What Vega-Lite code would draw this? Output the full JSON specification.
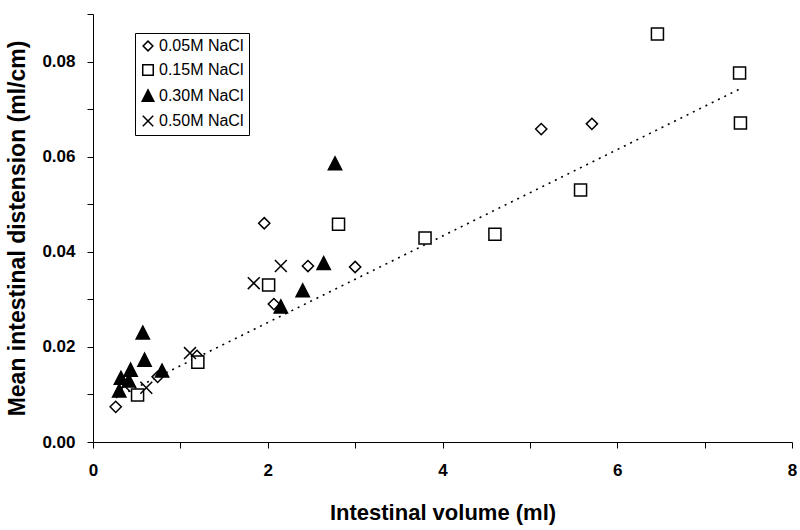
{
  "$schema": "https://vega.github.io/schema/vega-lite/v6.json",
  "width": 699,
  "height": 428,
  "autosize": {"type": "none"},
  "padding": {"left": 93, "top": 14, "right": 8, "bottom": 88},
  "background": "white",
  "config": {
    "view": {"stroke": null},
    "font": "Liberation Sans",
    "axis": {
      "grid": false,
      "domainColor": "black",
      "domainWidth": 1,
      "tickColor": "black",
      "tickWidth": 1,
      "tickSize": 6,
      "labelFont": "Liberation Sans",
      "labelFontWeight": "bold",
      "labelFontSize": 17,
      "labelColor": "black",
      "titleFont": "Liberation Sans",
      "titleFontWeight": "bold",
      "titleColor": "black",
      "titleLimit": 800
    },
    "legend": {
      "labelFont": "Liberation Sans",
      "labelFontSize": 16,
      "labelColor": "black"
    }
  },
  "layer": [
    {
      "data": {"values": [
        {"vol": 0.26, "fit": 0.0093},
        {"vol": 7.42, "fit": 0.0744}
      ]},
      "mark": {"type": "line", "color": "black", "strokeWidth": 1.6, "strokeDash": [2, 5]},
      "encoding": {
        "x": {"field": "vol", "type": "quantitative"},
        "y": {"field": "fit", "type": "quantitative"}
      }
    },
    {
      "data": {"values": [
        {"conc": "0.05M NaCl", "vol": 0.26, "dist": 0.0074},
        {"conc": "0.05M NaCl", "vol": 0.74, "dist": 0.0137},
        {"conc": "0.05M NaCl", "vol": 1.19, "dist": 0.0181},
        {"conc": "0.05M NaCl", "vol": 1.96, "dist": 0.0460},
        {"conc": "0.05M NaCl", "vol": 2.07, "dist": 0.0290},
        {"conc": "0.05M NaCl", "vol": 2.46, "dist": 0.0370},
        {"conc": "0.05M NaCl", "vol": 3.00, "dist": 0.0368},
        {"conc": "0.05M NaCl", "vol": 5.13, "dist": 0.0658},
        {"conc": "0.05M NaCl", "vol": 5.71, "dist": 0.0669},
        {"conc": "0.15M NaCl", "vol": 0.51, "dist": 0.0099},
        {"conc": "0.15M NaCl", "vol": 1.20, "dist": 0.0168},
        {"conc": "0.15M NaCl", "vol": 2.01, "dist": 0.0330},
        {"conc": "0.15M NaCl", "vol": 2.81, "dist": 0.0458},
        {"conc": "0.15M NaCl", "vol": 3.80, "dist": 0.0429},
        {"conc": "0.15M NaCl", "vol": 4.60, "dist": 0.0437},
        {"conc": "0.15M NaCl", "vol": 5.58, "dist": 0.0530},
        {"conc": "0.15M NaCl", "vol": 6.46, "dist": 0.0858},
        {"conc": "0.15M NaCl", "vol": 7.40, "dist": 0.0776},
        {"conc": "0.15M NaCl", "vol": 7.41, "dist": 0.0671},
        {"conc": "0.30M NaCl", "vol": 0.30, "dist": 0.0107},
        {"conc": "0.30M NaCl", "vol": 0.32, "dist": 0.0134},
        {"conc": "0.30M NaCl", "vol": 0.41, "dist": 0.0128},
        {"conc": "0.30M NaCl", "vol": 0.43, "dist": 0.0151},
        {"conc": "0.30M NaCl", "vol": 0.57, "dist": 0.0229},
        {"conc": "0.30M NaCl", "vol": 0.59, "dist": 0.0172},
        {"conc": "0.30M NaCl", "vol": 0.79, "dist": 0.0149},
        {"conc": "0.30M NaCl", "vol": 2.15, "dist": 0.0284},
        {"conc": "0.30M NaCl", "vol": 2.40, "dist": 0.0318},
        {"conc": "0.30M NaCl", "vol": 2.64, "dist": 0.0375},
        {"conc": "0.30M NaCl", "vol": 2.77, "dist": 0.0585},
        {"conc": "0.50M NaCl", "vol": 0.36, "dist": 0.0118},
        {"conc": "0.50M NaCl", "vol": 0.61, "dist": 0.0114},
        {"conc": "0.50M NaCl", "vol": 1.11, "dist": 0.0187},
        {"conc": "0.50M NaCl", "vol": 1.84, "dist": 0.0334},
        {"conc": "0.50M NaCl", "vol": 2.15, "dist": 0.0370}
      ]},
      "mark": {"type": "point", "filled": false, "size": 196, "strokeWidth": 1.5, "stroke": "black", "opacity": 1},
      "encoding": {
        "x": {
          "field": "vol", "type": "quantitative",
          "scale": {"domain": [0, 8], "nice": false, "zero": true},
          "axis": {
            "title": "Intestinal volume (ml)",
            "titleFontSize": 22,
            "values": [0, 1, 2, 3, 4, 5, 6, 7, 8],
            "labelExpr": "datum.value % 2 == 0 ? format(datum.value, 'd') : ''",
            "labelPadding": 14,
            "titlePadding": 24,
            "labelFlush": false
          }
        },
        "y": {
          "field": "dist", "type": "quantitative",
          "scale": {"domain": [0, 0.09], "nice": false},
          "axis": {
            "title": "Mean intestinal distension (ml/cm)",
            "titleFontSize": 23,
            "values": [0, 0.01, 0.02, 0.03, 0.04, 0.05, 0.06, 0.07, 0.08, 0.09],
            "labelExpr": "round(datum.value * 100) % 2 == 0 && datum.value < 0.085 ? format(datum.value, '.2f') : ''",
            "labelPadding": 12,
            "titlePadding": 12,
            "labelFlush": false
          }
        },
        "shape": {
          "field": "conc", "type": "nominal",
          "scale": {
            "domain": ["0.05M NaCl", "0.15M NaCl", "0.30M NaCl", "0.50M NaCl"],
            "range": [
              "M0,-0.8L0.8,0L0,0.8L-0.8,0Z",
              "M-0.86,-0.86L0.86,-0.86L0.86,0.86L-0.86,0.86Z",
              "M0,-1L0.95,0.85L-0.95,0.85Z",
              "M-0.85,-0.85L0.85,0.85M-0.85,0.85L0.85,-0.85"
            ]
          },
          "legend": {
            "title": null,
            "orient": "none",
            "legendX": 42,
            "legendY": 19,
            "strokeColor": "black",
            "padding": 5,
            "rowPadding": 7,
            "symbolSize": 150,
            "labelOffset": 3,
            "encode": {"symbols": {"update": {"stroke": {"value": "black"}, "strokeWidth": {"value": 1.5}}}}
          }
        },
        "fill": {
          "field": "conc", "type": "nominal",
          "scale": {
            "domain": ["0.05M NaCl", "0.15M NaCl", "0.30M NaCl", "0.50M NaCl"],
            "range": ["white", "white", "black", "white"]
          },
          "legend": {
            "title": null,
            "orient": "none",
            "legendX": 42,
            "legendY": 19,
            "strokeColor": "black",
            "padding": 5,
            "rowPadding": 7,
            "symbolSize": 150,
            "labelOffset": 3,
            "encode": {"symbols": {"update": {"stroke": {"value": "black"}, "strokeWidth": {"value": 1.5}}}}
          }
        }
      }
    }
  ]
}
